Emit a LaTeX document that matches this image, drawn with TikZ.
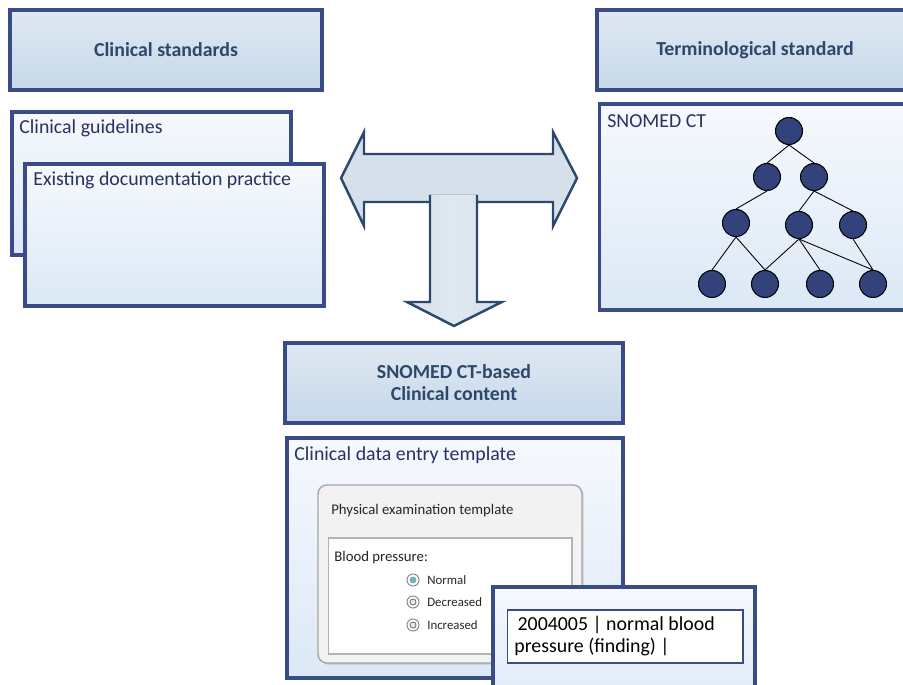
\documentclass[tikz,border=0pt]{standalone}
\usepackage{fontspec}
\setmainfont{Carlito}
\usepackage{xcolor}
\usepackage{tikz}
\usetikzlibrary{shapes,shadows,calc,positioning}
\definecolor{boxline}{RGB}{58,76,136}
\definecolor{hdtop}{RGB}{223,232,242}
\definecolor{hdbot}{RGB}{198,216,234}
\definecolor{hdtext}{RGB}{45,72,106}
\definecolor{bxtop}{RGB}{246,249,253}
\definecolor{bxbot}{RGB}{220,232,246}
\definecolor{lbltext}{RGB}{38,50,98}
\definecolor{arline}{RGB}{44,72,106}
\definecolor{arfill}{RGB}{213,224,235}
\definecolor{arlite}{RGB}{224,233,242}
\definecolor{tfill}{RGB}{50,66,122}
\definecolor{radiosel}{RGB}{80,190,220}
\tikzset{
  hbox/.style={rectangle, draw=boxline, line width=2pt, top color=hdtop, bottom color=hdbot, text=hdtext, align=center, font=\fontsize{11.3}{12.6}\selectfont\bfseries, drop shadow={shadow xshift=1.2pt, shadow yshift=-1.2pt, opacity=.25}},
  tbox/.style={rectangle, draw=boxline, line width=2pt, top color=bxtop, bottom color=bxbot, drop shadow={shadow xshift=1.2pt, shadow yshift=-1.2pt, opacity=.25}},
  lbl/.style={inner sep=0pt, anchor=west, text=lbltext, font=\fontsize{11.3}{12.6}\selectfont},
  small/.style={inner sep=0pt, anchor=west, text=black!85, font=\fontsize{8.4}{10}\selectfont},
  tiny/.style={inner sep=0pt, anchor=west, text=black!85, font=\fontsize{7.3}{9}\selectfont},
  tnode/.style={circle, draw=black, line width=.6pt, fill=tfill, minimum size=.54cm, inner sep=0pt},
  radio/.style={circle, draw=black!45, line width=.6pt, fill=white, minimum size=.24cm, inner sep=0pt},
  dot/.style={circle, draw=black!55, line width=.5pt, fill=black!8, minimum size=.12cm, inner sep=0pt}
}
\begin{document}
\begin{tikzpicture}[x=0.02cm, y=-0.02cm]
  \useasboundingbox (0,0) rectangle (903,685);

  % headers
  \node[hbox, minimum width=6.24cm, minimum height=1.6cm] (clinstd) at (166,50) {Clinical standards};
  \node[hbox, minimum width=6.32cm, minimum height=1.6cm] (termstd) at (755,50) {Terminological standard};

  % left sources
  \node[tbox, minimum width=5.58cm, minimum height=2.86cm] (guide) at (151.5,183.5) {};
  \node[lbl] (guidetxt) at (19,128) {Clinical guidelines};
  \node[tbox, minimum width=5.98cm, minimum height=2.84cm] (docu) at (174.5,235) {};
  \node[lbl] (docutxt) at (33,180) {Existing documentation practice};

  % terminology box with the hierarchy
  \node[tbox, minimum width=6.3cm, minimum height=4.12cm] (snomed) at (757,207) {};
  \node[lbl] (snomedtxt) at (607,121) {SNOMED CT};
  \node[tnode] (root) at (789,131) {};
  \node[tnode] (a1) at (767,177) {};
  \node[tnode] (a2) at (814,177) {};
  \node[tnode] (b1) at (736,223) {};
  \node[tnode] (b2) at (799,225) {};
  \node[tnode] (b3) at (853,225) {};
  \node[tnode] (c1) at (712,284) {};
  \node[tnode] (c2) at (765,284) {};
  \node[tnode] (c3) at (820,284) {};
  \node[tnode] (c4) at (873,284) {};
  \foreach \p/\c in {root/a1,root/a2,a1/b1,a2/b2,a2/b3,b1/c1,b1/c2,b2/c2,b2/c3,b2/c4,b3/c4}
    \draw[line width=.5pt] (\p.south) -- (\c.north);

  % the T arrow
  \filldraw[draw=arline, line width=1.4pt, fill=arfill, line join=miter]
    (341,178) -- (364,132) -- (364,154) -- (553,154) -- (553,132) -- (577,178)
    -- (553,226) -- (553,202) -- (364,202) -- (364,226) -- cycle;
  \fill[left color=arfill, right color=arfill, middle color=arlite]
    (430,195) -- (430,302) -- (407,302) -- (454,326) -- (502,302) -- (477,302) -- (477,195) -- cycle;
  \draw[arline, line width=1.4pt, line join=miter]
    (430,195) -- (430,302) -- (407,302) -- (454,326) -- (502,302) -- (477,302) -- (477,195);

  % result
  \node[hbox, minimum width=6.76cm, minimum height=1.6cm] (content) at (454,383) {SNOMED CT-based\\Clinical content};
  \node[tbox, minimum width=6.72cm, minimum height=4.8cm] (entry) at (455,558) {};
  \node[lbl] (entrytxt) at (294,455) {Clinical data entry template};

  % form mock-up
  \node[rectangle, rounded corners=5pt, draw=black!35, line width=.8pt, fill=black!5,
        minimum width=5.28cm, minimum height=3.56cm,
        drop shadow={shadow xshift=1pt, shadow yshift=-1pt, opacity=.3}] (form) at (450,574) {};
  \node[small] (formtxt) at (331,511) {Physical examination template};
  \node[rectangle, draw=black!30, line width=.6pt, fill=white, minimum width=4.88cm, minimum height=2.32cm] (field) at (450,596) {};
  \node[small] (bptxt) at (334,558) {Blood pressure:};
  \node[radio] (rnorm) at (413,580) {};
  \node[circle, draw=black!40, line width=.4pt, fill=radiosel, minimum size=.12cm, inner sep=0pt] at (rnorm) {};
  \node[radio] (rdecr) at (413,602) {};
  \node[dot] at (rdecr) {};
  \node[radio] (rincr) at (413,625) {};
  \node[dot] at (rincr) {};
  \node[tiny] (normtxt) at (427,580) {Normal};
  \node[tiny] (decrtxt) at (427,602) {Decreased};
  \node[tiny] (incrtxt) at (427,625) {Increased};

  % coded value
  \node[tbox, minimum width=5.24cm, minimum height=2.64cm] (code) at (624,653) {};
  \node[rectangle, draw=boxline, line width=.6pt, fill=white, minimum width=4.72cm, minimum height=1.06cm] (codefield) at (625,636.5) {};
  \node[lbl, text=black, align=left] (codetxt) at (514,636) {\,2004005 | normal blood\\pressure (finding) |};
\end{tikzpicture}
\end{document}
